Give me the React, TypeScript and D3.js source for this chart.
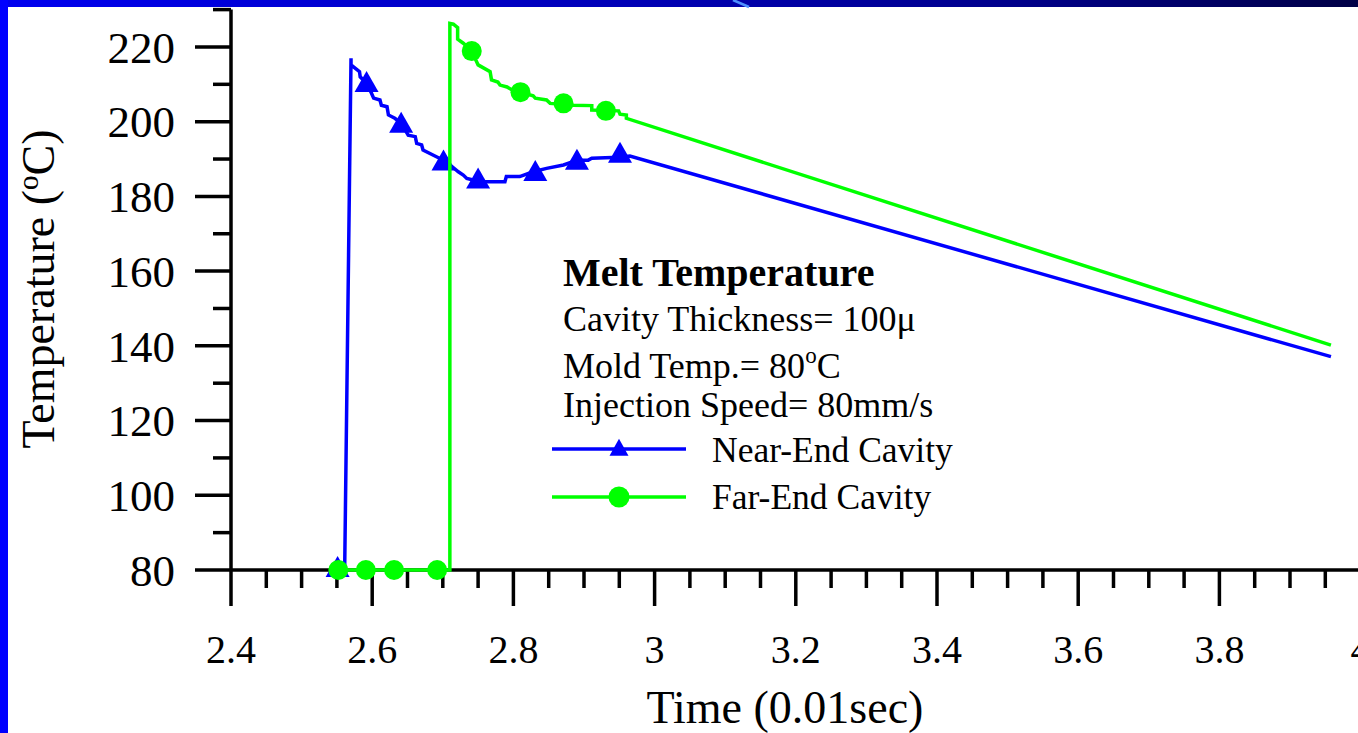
import React from "react";
import * as d3 from "d3";

const W = 1358;
const H = 733;

// Near-End Cavity (blue, triangles)
const nearT = [2.551, 2.561, 2.570, 2.570, 2.582, 2.583, 2.592, 2.599, 2.602, 2.611, 2.613, 2.621, 2.623, 2.632, 2.641, 2.651, 2.661, 2.663, 2.670, 2.672, 2.691, 2.701, 2.713, 2.722, 2.729, 2.734, 2.743, 2.750, 2.788, 2.790, 2.809, 2.828, 2.847, 2.871, 2.890, 2.906, 2.911, 2.950, 2.965, 3.958];
const nearV = [80, 80, 217.0, 215.2, 213.4, 212.0, 210.3, 207.6, 206.3, 205.8, 204.4, 204.0, 201.8, 200.9, 199.6, 196.4, 196.0, 194.2, 193.8, 192.4, 190.6, 189.7, 188.0, 186.6, 185.7, 184.8, 184.4, 183.9, 183.9, 185.3, 185.3, 186.6, 187.5, 188.4, 189.7, 189.7, 190.2, 190.5, 190.8, 137.1];
const nearMarkT = [2.551, 2.592, 2.641, 2.701, 2.750, 2.831, 2.890, 2.951];
const nearMarkV = [80, 209.8, 198.9, 188.8, 184.0, 186.0, 189.0, 190.9];

// Far-End Cavity (green, circles)
const farT = [2.552, 2.710, 2.710, 2.715, 2.721, 2.721, 2.729, 2.741, 2.750, 2.767, 2.769, 2.778, 2.781, 2.791, 2.798, 2.810, 2.828, 2.831, 2.847, 2.852, 2.884, 2.911, 2.911, 2.949, 2.951, 2.960, 2.960, 3.958];
const farV = [80, 80, 226.3, 226.1, 225.2, 222.1, 221.0, 218.9, 215.2, 213.4, 211.2, 210.6, 209.8, 209.3, 208.5, 207.9, 206.9, 206.3, 205.8, 204.9, 204.4, 204.3, 203.1, 202.9, 202.0, 201.8, 200.9, 140.2];
const farMarkT = [2.552, 2.591, 2.631, 2.692, 2.741, 2.810, 2.871, 2.931];
const farMarkV = [80, 80, 80, 80, 218.9, 207.9, 204.9, 202.9];

const xTickVals = [2.4, 2.6, 2.8, 3.0, 3.2, 3.4, 3.6, 3.8, 4.0];
const xTickLabels = ["2.4", "2.6", "2.8", "3", "3.2", "3.4", "3.6", "3.8", "4"];
const yTickVals = [80, 100, 120, 140, 160, 180, 200, 220];
const yTickLabels = ["80", "100", "120", "140", "160", "180", "200", "220"];

const legendTitle = "Melt Temperature";
const legendLines = ["Cavity Thickness= 100\u03bc", "Mold Temp.= 80", "Injection Speed= 80mm/s"];
const seriesNames = ["Near-End Cavity", "Far-End Cavity"];

const BLUE = "#0000ff";
const GREEN = "#00ff00";
const FONT = "'Liberation Serif', 'Times New Roman', serif";

export default function App() {
  const x = d3.scaleLinear().domain([2.4, 4.0]).range([231, 1360.6]);
  const y = d3.scaleLinear().domain([80, 230]).range([570, 9.6]);

  const line = d3
    .line<[number, number]>()
    .x((d) => x(d[0]))
    .y((d) => y(d[1]));

  const nearPts: [number, number][] = nearT.map((t, i) => [t, nearV[i]]);
  const farPts: [number, number][] = farT.map((t, i) => [t, farV[i]]);

  const xMinor = d3.range(2.4, 4.0001, 0.05).filter((v) => Math.abs(Math.round(v * 5) - v * 5) > 1e-6);
  const yMinor = d3.range(90, 231, 20);

  const tri = (cx: number, cy: number, w: number, h: number) =>
    `M${cx},${cy - (2 * h) / 3}L${cx + w / 2},${cy + h / 3}L${cx - w / 2},${cy + h / 3}Z`;

  return (
    <svg
      width={W}
      height={H}
      style={{ position: "absolute", left: 0, top: 0, display: "block", background: "#fff" }}
      fontFamily={FONT}
    >
      <defs>
        <linearGradient id="topbar" x1="0" x2="1" y1="0" y2="0">
          <stop offset="0" stopColor="#0000f0" />
          <stop offset="0.45" stopColor="#0000b8" />
          <stop offset="0.75" stopColor="#00008a" />
          <stop offset="1" stopColor="#000045" />
        </linearGradient>
      </defs>
      <rect x={0} y={0} width={W} height={H} fill="#fff" />
      <rect x={0} y={0} width={W} height={7} fill="url(#topbar)" />
      <line x1={733} y1={0} x2={749} y2={7} stroke="#4d8fff" strokeWidth={2.5} />
      <rect x={0} y={0} width={8} height={H} fill="#0000ff" />

      {/* Y axis */}
      <line x1={x(2.4)} y1={y(230)} x2={x(2.4)} y2={y(80)} stroke="#000" strokeWidth={3.5} />
      {yTickVals.map((v, i) => (
        <g key={"yt" + v}>
          <line x1={195} x2={x(2.4)} y1={y(v)} y2={y(v)} stroke="#000" strokeWidth={3.5} />
          <text x={175} y={y(v)} dy="0.35em" textAnchor="end" fontSize={45} fill="#000">
            {yTickLabels[i]}
          </text>
        </g>
      ))}
      {yMinor.map((v) => (
        <line key={"ym" + v} x1={213} x2={x(2.4)} y1={y(v)} y2={y(v)} stroke="#000" strokeWidth={3.5} />
      ))}

      {/* X axis */}
      <line x1={x(2.4)} y1={y(80)} x2={W} y2={y(80)} stroke="#000" strokeWidth={3.5} />
      {xTickVals.map((v, i) => (
        <g key={"xt" + v}>
          <line x1={x(v)} x2={x(v)} y1={y(80)} y2={y(80) + 36} stroke="#000" strokeWidth={3.5} />
          <text x={x(v)} y={663} textAnchor="middle" fontSize={40} fill="#000">
            {xTickLabels[i]}
          </text>
        </g>
      ))}
      {xMinor.map((v) => (
        <line key={"xm" + v} x1={x(v)} x2={x(v)} y1={y(80)} y2={y(80) + 18} stroke="#000" strokeWidth={3.5} />
      ))}

      {/* Axis titles */}
      <text x={785} y={723} textAnchor="middle" fontSize={46} fill="#000">
        Time (0.01sec)
      </text>
      <text transform="translate(54,289) rotate(-90)" textAnchor="middle" fontSize={46} fill="#000">
        Temperature (
        <tspan fontSize={29} dy={-16}>o</tspan>
        <tspan dy={16}>C)</tspan>
      </text>

      {/* Series */}
      <path d={line(nearPts) || ""} fill="none" stroke={BLUE} strokeWidth={3.5} strokeLinejoin="miter" />
      {nearMarkT.map((t, i) => (
        <path key={"nm" + i} d={tri(x(t), y(nearMarkV[i]), 24, 21)} fill={BLUE} />
      ))}
      <path d={line(farPts) || ""} fill="none" stroke={GREEN} strokeWidth={3.5} strokeLinejoin="miter" />
      {farMarkT.map((t, i) => (
        <circle key={"fm" + i} cx={x(t)} cy={y(farMarkV[i])} r={10} fill={GREEN} />
      ))}

      {/* Legend */}
      <text x={563} y={286} fontSize={40} fontWeight="bold" fill="#000">
        {legendTitle}
      </text>
      <text x={563} y={331} fontSize={36} fill="#000">
        {legendLines[0]}
      </text>
      <text x={563} y={378} fontSize={36} fill="#000">
        {legendLines[1]}
        <tspan fontSize={23} dy={-15}>o</tspan>
        <tspan dy={15}>C</tspan>
      </text>
      <text x={563} y={417} fontSize={36} fill="#000">
        {legendLines[2]}
      </text>

      <line x1={552} x2={686} y1={449} y2={449} stroke={BLUE} strokeWidth={3.5} />
      <path d={tri(619, 450, 19, 17)} fill={BLUE} />
      <text x={712} y={462} fontSize={35.5} fill="#000">
        {seriesNames[0]}
      </text>

      <line x1={552} x2={686} y1={497} y2={497} stroke={GREEN} strokeWidth={3.5} />
      <circle cx={619} cy={497} r={10.5} fill={GREEN} />
      <text x={712} y={509} fontSize={35.5} fill="#000">
        {seriesNames[1]}
      </text>
    </svg>
  );
}
